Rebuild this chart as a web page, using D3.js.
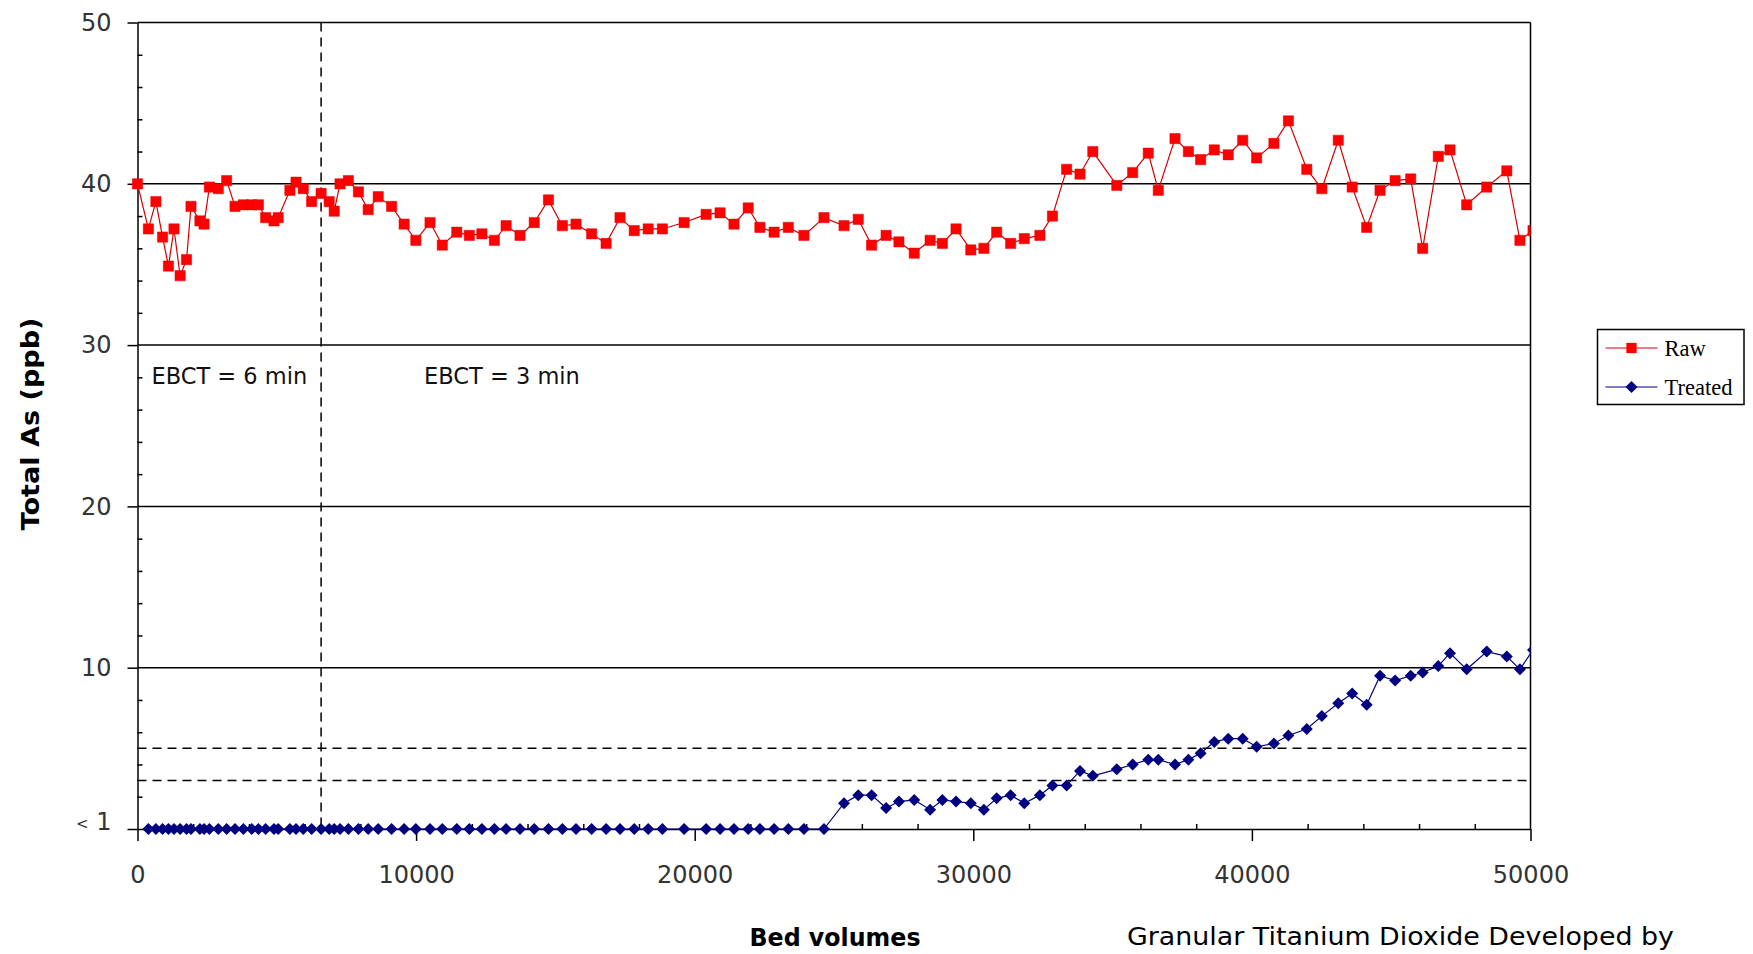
<!DOCTYPE html>
<html>
<head>
<meta charset="utf-8">
<script src="https://cdn.jsdelivr.net/npm/d3@7"></script>
<style>
  html, body { margin: 0; padding: 0; background: #fff; }
  svg { display: block; }
</style>
</head>
<body>
<svg id="chart" width="1753" height="954"></svg>
<script>
// Bed volumes treated at each sampling point
const bedVolumes = [
  0, 390, 660, 900, 1110, 1310, 1530, 1760, 1920, 2240,
  2390, 2580, 2900, 3200, 3500, 3800, 4100, 4340, 4600, 4900,
  5050, 5470, 5690, 5950, 6250, 6590, 6880, 7060, 7270, 7570,
  7930, 8280, 8640, 9120, 9570, 9990, 10500, 10940, 11460, 11910,
  12360, 12810, 13230, 13730, 14240, 14750, 15250, 15740, 16300, 16820,
  17320, 17830, 18330, 18840, 19620, 20410, 20910, 21410, 21920, 22340,
  22850, 23360, 23920, 24640, 25360, 25870, 26350, 26870, 27330, 27880,
  28450, 28890, 29380, 29910, 30380, 30840, 31340, 31830, 32390, 32840,
  33350, 33830, 34290, 35150, 35720, 36280, 36640, 37240, 37720, 38160,
  38650, 39150, 39670, 40170, 40790, 41310, 41970, 42510, 43100, 43600,
  44120, 44600, 45140, 45700, 46130, 46690, 47110, 47710, 48430, 49150,
  49620, 50090
];

// Influent (raw) total arsenic, ppb
const rawAs = [
  40.0, 37.2, 38.9, 36.7, 34.9, 37.2, 34.3, 35.3, 38.6, 37.7,
  37.5, 39.8, 39.7, 40.2, 38.6, 38.7, 38.7, 38.7, 37.9, 37.7,
  37.9, 39.6, 40.1, 39.7, 38.9, 39.4, 38.9, 38.3, 40.0, 40.2,
  39.5, 38.4, 39.2, 38.6, 37.5, 36.5, 37.6, 36.2, 37.0, 36.8,
  36.9, 36.5, 37.4, 36.8, 37.6, 39.0, 37.4, 37.5, 36.9, 36.3,
  37.9, 37.1, 37.2, 37.2, 37.6, 38.1, 38.2, 37.5, 38.5, 37.3,
  37.0, 37.3, 36.8, 37.9, 37.4, 37.8, 36.2, 36.8, 36.4, 35.7,
  36.5, 36.3, 37.2, 35.9, 36.0, 37.0, 36.3, 36.6, 36.8, 38.0,
  40.9, 40.6, 42.0, 39.9, 40.7, 41.9, 39.6, 42.8, 42.0, 41.5,
  42.1, 41.8, 42.7, 41.6, 42.5, 43.9, 40.9, 39.7, 42.7, 39.8,
  37.3, 39.6, 40.2, 40.3, 36.0, 41.7, 42.1, 38.7, 39.8, 40.8,
  36.5, 37.1
];

// Effluent (treated) total arsenic, ppb; 0 = below detection (<1), null = not sampled
const treatedAs = [
  null, 0, 0, 0, 0, 0, 0, 0, 0, 0,
  0, 0, 0, 0, 0, 0, 0, 0, 0, 0,
  0, 0, 0, 0, 0, 0, 0, 0, 0, 0,
  0, 0, 0, 0, 0, 0, 0, 0, 0, 0,
  0, 0, 0, 0, 0, 0, 0, 0, 0, 0,
  0, 0, 0, 0, 0, 0, 0, 0, 0, 0,
  0, 0, 0, 0, 1.6, 2.1, 2.1, 1.3, 1.7, 1.8,
  1.2, 1.8, 1.7, 1.6, 1.2, 1.9, 2.1, 1.6, 2.1, 2.7,
  2.7, 3.6, 3.3, 3.7, 4.0, 4.3, 4.3, 4.0, 4.3, 4.7,
  5.4, 5.6, 5.6, 5.1, 5.3, 5.8, 6.2, 7.0, 7.8, 8.4,
  7.7, 9.5, 9.2, 9.5, 9.7, 10.1, 10.9, 9.9, 11.0, 10.7,
  9.9, 11.1
];

const xTickValues = [0, 10000, 20000, 30000, 40000, 50000];
const yTickValues = [0, 10, 20, 30, 40, 50];
const yTickLabels = ["<1", "10", "20", "30", "40", "50"];
const limitLines = [5, 3];          // reference levels, ppb
const ebctChangeBV = 6590;          // bed volume where EBCT changed
const ebctLabels = ["EBCT = 6 min", "EBCT = 3 min"];
const seriesNames = ["Raw", "Treated"];

const W = 1753, H = 954;
const plot = { left: 137.5, right: 1530.5, top: 22.5, bottom: 829 };

const svg = d3.select("#chart");
svg.append("rect").attr("width", W).attr("height", H).attr("fill", "#fff");

const x = d3.scaleLinear().domain([0, 50000]).range([plot.left, plot.right]);
const y = d3.scaleLinear().domain([0, 50]).range([plot.bottom, plot.top]);

const rawColor = "#ff0000";
const rawLine = "#d40000";
const trtColor = "#000080";
const tickFont = "'DejaVu Sans', Verdana, sans-serif";

svg.append("defs").append("clipPath").attr("id", "plot-clip")
  .append("rect")
  .attr("x", plot.left - 20).attr("y", plot.top - 20)
  .attr("width", plot.right - plot.left + 20)
  .attr("height", plot.bottom - plot.top + 40);

// horizontal gridlines at the major values
svg.append("g").selectAll("line")
  .data(yTickValues.filter(d => d > 0))
  .join("line")
  .attr("x1", plot.left).attr("x2", plot.right)
  .attr("y1", d => y(d)).attr("y2", d => y(d))
  .attr("stroke", "#000").attr("stroke-width", 1.5);

// right frame edge
svg.append("line")
  .attr("x1", plot.right).attr("x2", plot.right)
  .attr("y1", y(50)).attr("y2", y(0))
  .attr("stroke", "#000").attr("stroke-width", 1.5);

// dashed reference levels
svg.append("g").selectAll("line")
  .data(limitLines)
  .join("line")
  .attr("x1", plot.left).attr("x2", plot.right)
  .attr("y1", d => y(d)).attr("y2", d => y(d))
  .attr("stroke", "#000").attr("stroke-width", 1.5)
  .attr("stroke-dasharray", "9,6");

// dashed line marking the EBCT change
svg.append("line")
  .attr("x1", x(ebctChangeBV)).attr("x2", x(ebctChangeBV))
  .attr("y1", y(50)).attr("y2", y(0))
  .attr("stroke", "#000").attr("stroke-width", 1.5)
  .attr("stroke-dasharray", "9,6");

// EBCT labels
svg.append("g").selectAll("text")
  .data(ebctLabels)
  .join("text")
  .attr("x", (d, i) => i === 0 ? x(0) + 14 : x(ebctChangeBV) + 103)
  .attr("y", y(30) + 39)
  .attr("font-family", tickFont)
  .attr("font-size", 22.5)
  .attr("fill", "#111")
  .text(d => d);

// ---- axes ----
function styleAxis(g) {
  g.selectAll(".domain").attr("stroke", "#000").attr("stroke-width", 1.5);
  g.selectAll(".tick line").attr("stroke", "#000").attr("stroke-width", 1.5);
  g.selectAll(".tick text")
    .attr("font-family", tickFont)
    .attr("font-size", 24)
    .attr("fill", "#333");
}

// x minor ticks, pointing into the plot
const xMinor = d3.range(0, 50001, 2000).filter(d => d % 10000 !== 0);
svg.append("g")
  .attr("transform", `translate(0,${plot.bottom})`)
  .call(d3.axisBottom(x).tickValues(xMinor).tickSize(-5).tickSizeOuter(0).tickFormat(""))
  .call(g => g.select(".domain").remove())
  .call(styleAxis);

// x major ticks and labels
svg.append("g")
  .attr("transform", `translate(0,${plot.bottom})`)
  .call(d3.axisBottom(x).tickValues(xTickValues).tickSize(12).tickSizeOuter(0)
    .tickPadding(25).tickFormat(d3.format("d")))
  .call(styleAxis);

// y minor ticks, pointing into the plot
const yMinor = d3.range(0, 51, 2).filter(d => d % 10 !== 0);
svg.append("g")
  .attr("transform", `translate(${plot.left},0)`)
  .call(d3.axisLeft(y).tickValues(yMinor).tickSize(-5).tickSizeOuter(0).tickFormat(""))
  .call(g => g.select(".domain").remove())
  .call(styleAxis);

// y major ticks and labels
const yAxisG = svg.append("g")
  .attr("transform", `translate(${plot.left},0)`)
  .call(d3.axisLeft(y).tickValues(yTickValues).tickSize(10).tickSizeOuter(0)
    .tickPadding(16).tickFormat((d, i) => yTickLabels[i]))
  .call(styleAxis);

// the "<1" label uses a small "<"
yAxisG.selectAll(".tick text")
  .filter(d => d === 0)
  .each(function () {
    const t = d3.select(this);
    t.text(null);
    t.append("tspan").attr("font-size", 15).attr("dy", "-0.05em").text("<");
    t.append("tspan").attr("font-size", 24).attr("dy", "0.05em").text("\u00a01");
  });

// ---- series ----
const rawData = bedVolumes.map((bv, i) => ({ bv, v: rawAs[i] }));
const trtData = bedVolumes.map((bv, i) => ({ bv, v: treatedAs[i] }));

const lineGen = d3.line()
  .defined(d => d.v != null)
  .x(d => x(d.bv))
  .y(d => y(d.v));

const series = svg.append("g").attr("clip-path", "url(#plot-clip)");

series.append("path")
  .datum(rawData)
  .attr("d", lineGen)
  .attr("fill", "none")
  .attr("stroke", rawLine)
  .attr("stroke-width", 1.2);

series.append("path")
  .datum(trtData)
  .attr("d", lineGen)
  .attr("fill", "none")
  .attr("stroke", trtColor)
  .attr("stroke-width", 1.2);

const squareSym = d3.symbol().type(d3.symbolSquare).size(105);
const diamondSym = d3.symbol().type(d3.symbolSquare).size(72);

series.append("g").selectAll("path")
  .data(rawData.filter(d => d.v != null))
  .join("path")
  .attr("d", squareSym)
  .attr("transform", d => `translate(${x(d.bv)},${y(d.v)})`)
  .attr("fill", rawColor)
  .attr("stroke", "#e00000")
  .attr("stroke-width", 0.5);

series.append("g").selectAll("path")
  .data(trtData.filter(d => d.v != null))
  .join("path")
  .attr("d", diamondSym)
  .attr("transform", d => `translate(${x(d.bv)},${y(d.v)}) rotate(45)`)
  .attr("fill", trtColor);

// ---- legend ----
const legend = svg.append("g").attr("transform", "translate(1597.5,329.5)");
legend.append("rect")
  .attr("width", 146.5).attr("height", 75)
  .attr("fill", "#fff").attr("stroke", "#000").attr("stroke-width", 1.5);

const legendRows = [
  { name: seriesNames[0], color: rawColor, line: rawLine, sym: squareSym, rot: 0, cy: 18.5 },
  { name: seriesNames[1], color: trtColor, line: trtColor, sym: diamondSym, rot: 45, cy: 57.5 }
];
const lr = legend.selectAll("g.row").data(legendRows).join("g")
  .attr("class", "row")
  .attr("transform", d => `translate(0,${d.cy})`);
lr.append("line")
  .attr("x1", 8).attr("x2", 60)
  .attr("stroke", d => d.line).attr("stroke-width", 1.2);
lr.append("path")
  .attr("d", d => d.sym())
  .attr("transform", d => `translate(34,0) rotate(${d.rot})`)
  .attr("fill", d => d.color);
lr.append("text")
  .attr("x", 67).attr("y", 7.5)
  .attr("font-family", "'Liberation Serif', 'Times New Roman', serif")
  .attr("font-size", 22.5)
  .attr("fill", "#000")
  .text(d => d.name);

// ---- axis titles and note ----
svg.append("text")
  .attr("transform", "translate(39,424) rotate(-90)")
  .attr("text-anchor", "middle")
  .attr("font-family", tickFont)
  .attr("font-weight", "bold")
  .attr("font-size", 25)
  .attr("textLength", 213)
  .attr("lengthAdjust", "spacingAndGlyphs")
  .attr("fill", "#000")
  .text("Total As (ppb)");

svg.append("text")
  .attr("x", 835).attr("y", 946)
  .attr("text-anchor", "middle")
  .attr("font-family", tickFont)
  .attr("font-weight", "bold")
  .attr("font-size", 25)
  .attr("textLength", 171)
  .attr("lengthAdjust", "spacingAndGlyphs")
  .attr("fill", "#000")
  .text("Bed volumes");

svg.append("text")
  .attr("x", 1127).attr("y", 945)
  .attr("font-family", tickFont)
  .attr("font-size", 25)
  .attr("textLength", 547)
  .attr("lengthAdjust", "spacingAndGlyphs")
  .attr("fill", "#000")
  .text("Granular Titanium Dioxide Developed by");
</script>
</body>
</html>
